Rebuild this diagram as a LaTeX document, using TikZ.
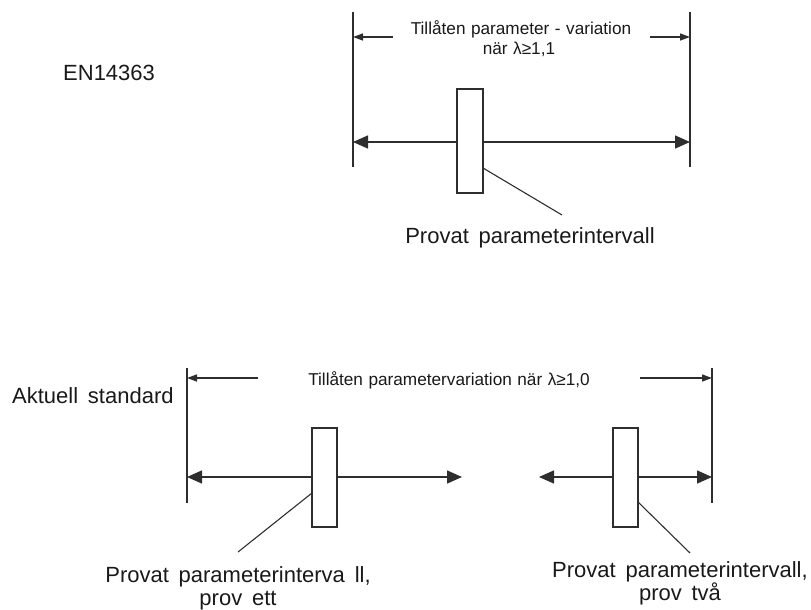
\documentclass[tikz,border=0pt]{standalone}
\usepackage{fontspec}
\setmainfont{Liberation Sans}[WordSpace=1.6]
\newfontfamily\dimfont{Liberation Sans}[WordSpace=1.15]
\usetikzlibrary{arrows.meta}
\begin{document}
\begin{tikzpicture}[x=1pt,y=-1pt,
  ink/.style={draw=black!82},
  limitline/.style={ink, line width=1.8pt},
  spanline/.style={ink, line width=1.5pt,
    {Triangle[length=15pt,width=13pt]}-{Triangle[length=15pt,width=13pt]}},
  dimline/.style={ink, line width=1.3pt, -{Triangle[length=10pt,width=7pt]}},
  leader/.style={ink, line width=1.1pt},
  pbox/.style={ink, fill=white, line width=1.8pt, minimum width=25pt,
    inner sep=0pt, outer sep=0pt},
  bigtext/.style={text=black!90, font=\fontsize{22}{25}\selectfont, inner sep=0pt},
  smalltext/.style={text=black!90, font=\dimfont\fontsize{17.2}{20}\selectfont, inner sep=0pt},
]
\useasboundingbox (0,0) rectangle (811,610);

% ---------- EN14363 ----------
\node[bigtext, anchor=base west] (en) at (63,81) {EN14363};

\coordinate (tl1) at (353,12);  \coordinate (bl1) at (353,167);
\coordinate (tr1) at (690,12);  \coordinate (br1) at (690,167);
\draw[limitline] (tl1) -- (bl1);
\draw[limitline] (tr1) -- (br1);

\coordinate (dl1) at (353,37);  \coordinate (ds1) at (393,37);
\coordinate (dr1) at (690,37);  \coordinate (de1) at (650,37);
\draw[dimline] (ds1) -- (dl1);
\draw[dimline] (de1) -- (dr1);
\node[smalltext, anchor=base] (var1) at (521,35)
  {Tillåten parameter - variation};
\node[smalltext, anchor=base] (var1b) at (519,55) {när λ≥1,1};

\coordinate (al1) at (353,142); \coordinate (ar1) at (690,142);
\draw[spanline] (al1) -- (ar1);
\node[pbox, minimum height=104pt, minimum width=26pt] (box) at (470,141) {};

\node[bigtext, anchor=base] (lab) at (530,243) {Provat parameterintervall};
\coordinate (lend) at (562,215);
\draw[leader] ([yshift=-27pt]box.east) -- (lend);

% ---------- Aktuell standard ----------
\node[bigtext, anchor=base west] (cur) at (12,403) {Aktuell standard};

\coordinate (tl2) at (187,368); \coordinate (bl2) at (187,503);
\coordinate (tr2) at (712,368); \coordinate (br2) at (712,503);
\draw[limitline] (tl2) -- (bl2);
\draw[limitline] (tr2) -- (br2);

\coordinate (dl2) at (187,378); \coordinate (ds2) at (258,378);
\coordinate (dr2) at (712,378); \coordinate (de2) at (640,378);
\draw[dimline] (ds2) -- (dl2);
\draw[dimline] (de2) -- (dr2);
\node[smalltext, anchor=base] (var2) at (449,385)
  {Tillåten parametervariation när λ≥1,0};

\coordinate (al2) at (187,477); \coordinate (tip1) at (462,477);
\coordinate (tip2) at (539,477); \coordinate (ar2) at (712,477);
\draw[spanline] (al2) -- (tip1);
\draw[spanline] (tip2) -- (ar2);
\node[pbox, minimum height=99pt] (boxa) at (324.5,477.5) {};
\node[pbox, minimum height=99pt] (boxb) at (625.5,477.5) {};

\node[bigtext, anchor=base] (laba) at (238,582) {Provat parameterinterva ll,};
\node[bigtext, anchor=base] (labaa) at (238,605) {prov ett};
\node[bigtext, anchor=base] (labb) at (680,577) {Provat parameterintervall,};
\node[bigtext, anchor=base] (labbb) at (680,600) {prov två};

\coordinate (lenda) at (238,552);
\coordinate (lendb) at (690,553);
\draw[leader] ([yshift=-15.5pt]boxa.west) -- (lenda);
\draw[leader] ([yshift=-24.5pt]boxb.east) -- (lendb);
\end{tikzpicture}
\end{document}
